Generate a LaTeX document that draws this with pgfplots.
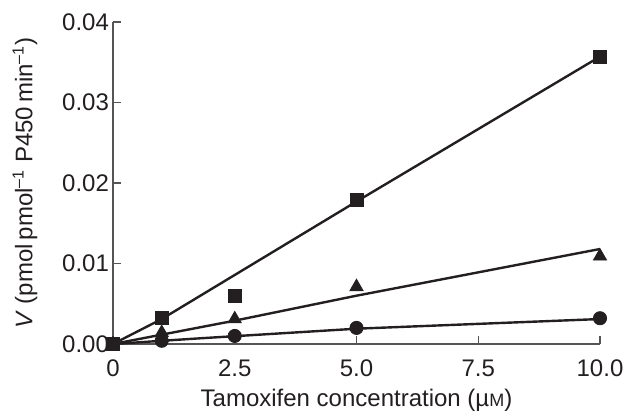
\documentclass[border=0pt]{standalone}
\usepackage{fontspec}
\setmainfont{Liberation Sans}
\usepackage{pgfplots}
\pgfplotsset{compat=1.18}
\definecolor{ink}{RGB}{35,31,32}
\definecolor{axisgray}{RGB}{85,85,85}
\newcommand{\lblfont}{\fontsize{12}{14}\selectfont}

\begin{document}
\begin{tikzpicture}
\begin{axis}[
  scale only axis, width=243.5pt, height=161pt,
  xmin=0, xmax=10, ymin=0, ymax=0.04,
  axis x line*=bottom, axis y line*=left,
  axis line style={-, axisgray, line width=0.7pt},
  tick align=inside, major tick length=4pt,
  tick style={axisgray, line width=0.6pt},
  xtick={0,2.5,5,7.5,10}, xticklabels={0,2.5,5.0,7.5,10.0},
  ytick={0,0.01,0.02,0.03,0.04},
  /pgf/number format/fixed, /pgf/number format/fixed zerofill,
  /pgf/number format/precision=2, /pgf/number format/assume math mode=true,
  scaled y ticks=false,
  ticklabel style={font=\lblfont, text=ink},
  yticklabel style={xshift=1.5pt},
  xticklabel style={yshift=-4.5pt},
  label style={font=\lblfont, text=ink},
  xlabel={Tamoxifen concentration (\textmu{\fontsize{9}{10}\selectfont M})},
  ylabel={\textit{V} (pmol\,pmol\textsuperscript{–1} P450\,min\textsuperscript{–1})},
  xlabel style={at={(axis description cs:0.5,0)}, anchor=base, yshift=-31.5pt},
  ylabel style={at={(axis description cs:-0.1807,0.5)}, anchor=center},
  clip=false,
]
% fitted lines
\addplot[ink, line width=1.2pt] coordinates {(0,0)(1,0.0031)(5,0.0177)(10,0.0357)};
\addplot[ink, line width=1.2pt] coordinates {(0,0)(2.5,0.0029)(5,0.0060)(10,0.0118)};
\addplot[ink, line width=1.2pt] coordinates {(0,0)(1.77,0.0007)(5,0.0019)(10,0.0031)};
% data points
\addplot[only marks, mark=*, mark size=3.3pt, ink] coordinates {(0,0)(1,0.0004)(2.5,0.0010)(5,0.0020)(10,0.0032)};
\addplot[only marks, mark=triangle*, mark size=3.8pt, ink] coordinates {(0,0)(1,0.0014)(2.5,0.0031)(5,0.0071)(10,0.0109)};
\addplot[only marks, mark=square*, mark size=3.2pt, ink] coordinates {(0,0)(1,0.0032)(2.5,0.0060)(5,0.0179)(10,0.0357)};
\end{axis}
\pgfresetboundingbox
\path ([shift={(-56.5pt,-33.5pt)}]current axis.south west) rectangle ([shift={(13pt,11pt)}]current axis.north east);
\end{tikzpicture}
\end{document}
